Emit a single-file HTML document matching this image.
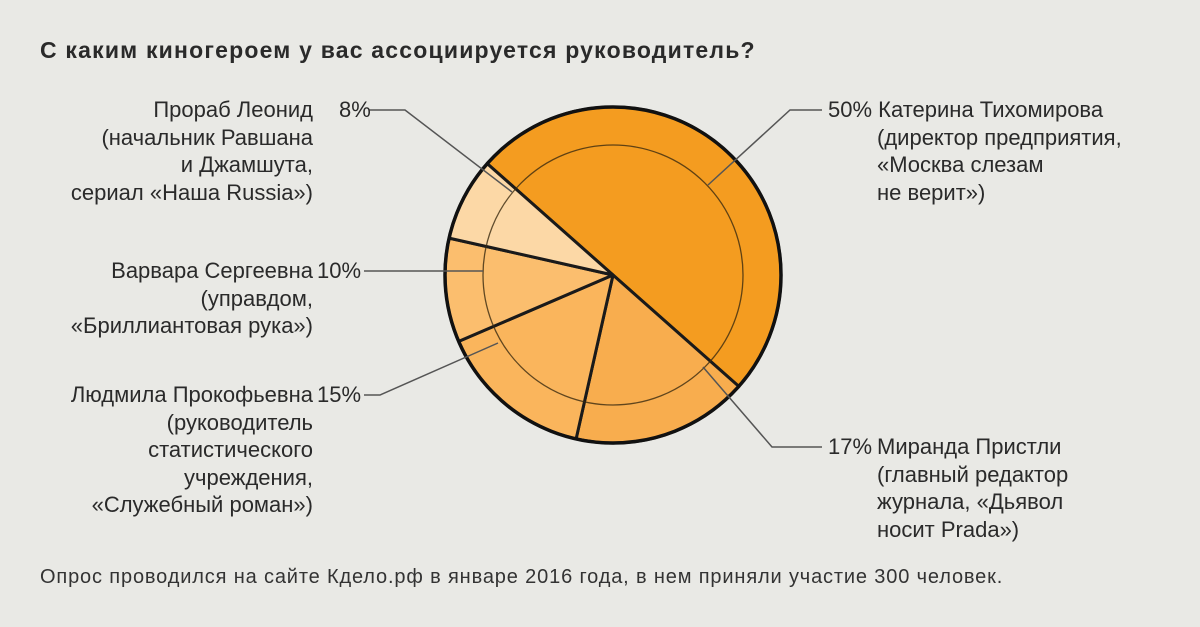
<!DOCTYPE html>
<html><head><meta charset="utf-8"><style>
html,body{margin:0;padding:0;background:#e9e9e5;}
svg{display:block}
text{font-family:"Liberation Sans","DejaVu Sans",sans-serif;fill:#2a2a2a;font-size:22px;letter-spacing:0px}
</style></head><body>
<svg width="1200" height="627" viewBox="0 0 1200 627">
<rect width="1200" height="627" fill="#e9e9e5"/>
<text x="40" y="58" style="font-weight:bold;font-size:23px;letter-spacing:1.2px">С каким киногероем у вас ассоциируется руководитель?</text>

<g stroke="#1a1a1a" stroke-width="3" stroke-linejoin="round">
<path d="M613,275 L487.2,163.6 A168,168 0 0 1 738.8,386.4 Z" fill="#f49c20"/>
<path d="M613,275 L738.8,386.4 A168,168 0 0 1 576.1,438.9 Z" fill="#f8ad4e"/>
<path d="M613,275 L576.1,438.9 A168,168 0 0 1 458.7,341.4 Z" fill="#fab55c"/>
<path d="M613,275 L458.7,341.4 A168,168 0 0 1 449.1,238.1 Z" fill="#fbbe6e"/>
<path d="M613,275 L449.1,238.1 A168,168 0 0 1 487.2,163.6 Z" fill="#fcd8a6"/>
</g>
<circle cx="613" cy="275" r="130" fill="none" stroke="#3a2a10" stroke-width="1.3" opacity="0.8"/>
<circle cx="613" cy="275" r="168" fill="none" stroke="#111" stroke-width="3.5"/>

<g stroke="#555" stroke-width="1.5" fill="none">
<polyline points="369,110 405,110 512,192"/>
<polyline points="364,271 483,271"/>
<polyline points="364,395 380,395 498,343"/>
<polyline points="703,367 772,447 822,447"/>
<polyline points="708,185 790,110 822,110"/>
</g>

<g text-anchor="end">
<text x="313" y="117">Прораб Леонид</text>
<text x="313" y="145">(начальник Равшана</text>
<text x="313" y="172">и Джамшута,</text>
<text x="313" y="200">сериал «Наша Russia»)</text>
<text x="313" y="278">Варвара Сергеевна</text>
<text x="313" y="306">(управдом,</text>
<text x="313" y="333">«Бриллиантовая рука»)</text>
<text x="313" y="402">Людмила Прокофьевна</text>
<text x="313" y="430">(руководитель</text>
<text x="313" y="457">статистического</text>
<text x="313" y="485">учреждения,</text>
<text x="313" y="512">«Служебный роман»)</text>
</g>
<text x="339" y="117">8%</text>
<text x="317" y="278">10%</text>
<text x="317" y="402">15%</text>

<text x="828" y="117">50% Катерина Тихомирова</text>
<text x="877" y="145">(директор предприятия,</text>
<text x="877" y="172">«Москва слезам</text>
<text x="877" y="200">не верит»)</text>
<text x="828" y="454">17%</text>
<text x="877" y="454">Миранда Пристли</text>
<text x="877" y="482">(главный редактор</text>
<text x="877" y="509">журнала, «Дьявол</text>
<text x="877" y="537">носит Prada»)</text>

<text x="40" y="583" style="font-size:20px;fill:#333;letter-spacing:0.85px">Опрос проводился на сайте Кдело.рф в январе 2016 года, в нем приняли участие 300 человек.</text>
</svg>
</body></html>
